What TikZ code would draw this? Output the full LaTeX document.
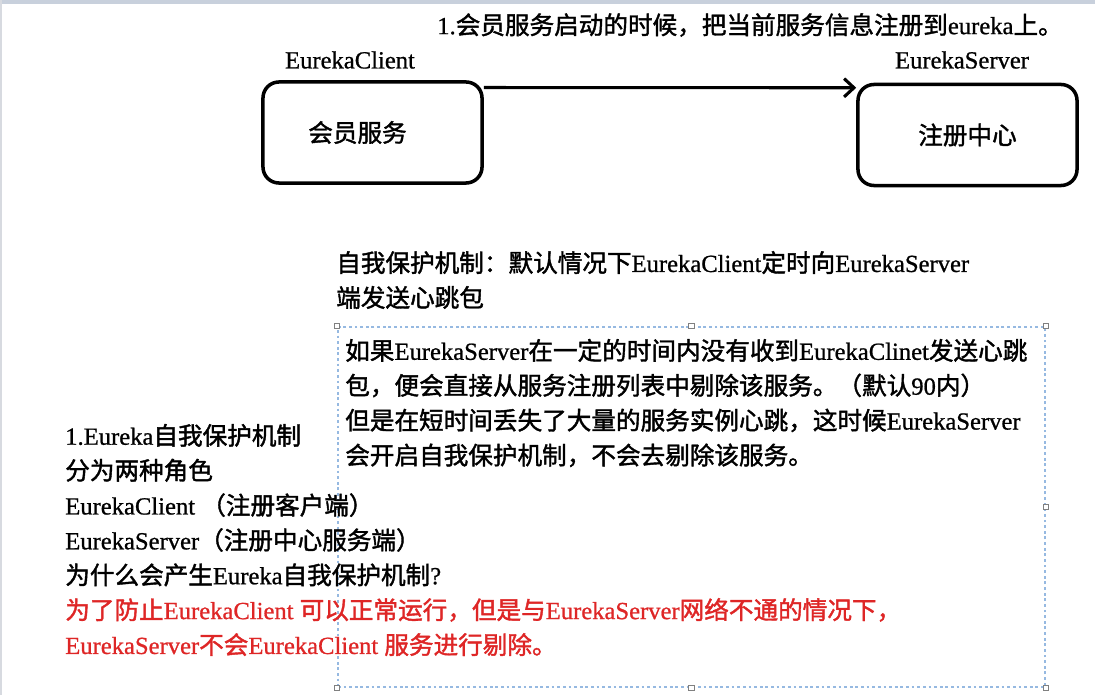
\documentclass[tikz,border=0pt]{standalone}
\usepackage{fontspec}
\usepackage{xcolor}
\usetikzlibrary{arrows.meta}
\setmainfont{Liberation Serif}[FakeBold=0.8]
\newfontfamily\zhfont{Noto Sans CJK SC}[FakeBold=1.6]
\newcommand{\zh}[1]{{\zhfont #1}}
\definecolor{barblue}{RGB}{200,208,220}
\definecolor{edgegray}{RGB}{215,218,224}
\definecolor{selblue}{RGB}{150,185,225}
\definecolor{textred}{RGB}{222,38,38}

\begin{document}
\begin{tikzpicture}[x=0.025cm, y=-0.025cm, every node/.style={font=\fontsize{17.5}{24.8}\selectfont}]
\tikzset{
  svcbox/.style={draw=black, line width=2.5pt, rounded corners=0.4cm, minimum width=5.475cm, minimum height=2.525cm},
  handle/.style={draw=gray, fill=white, line width=0.6pt, minimum size=0.13cm, inner sep=0pt},
  note/.style={align=left, anchor=west, inner sep=0pt},
}
\useasboundingbox (0,0) rectangle (1095,695);

% Window edges
\fill[barblue] (0,0) rectangle (1095,4);
\fill[edgegray] (0,0) rectangle (2,695);

% Title
\node[note] (title) at (437,25) {1.\zh{会员服务启动的时候，把当前服务信息注册到}eureka\zh{上。}};

% Services
\node[svcbox] (mem) at (372.5,132.5) {\zh{会员服务}\hspace*{0.75cm}};
\node[svcbox] (reg) at (967.5,135) {\zh{注册中心}};
\node (cliLabel) at (350,60) {EurekaClient};
\node (srvLabel) at (962,60) {EurekaServer};

% Register arrow
\draw[line width=2.2pt, -{Straight Barb[length=7pt,width=13pt]}] (mem.22) -- (reg.157);

% Heartbeat note
\node[note] (beat) at (336,280) {\zh{自我保护机制：默认情况下}EurekaClient\zh{定时向}EurekaServer\\
  \zh{端发送心跳包}};

% Selection frame
\node[draw=selblue, line width=1.1pt, dash pattern=on 2pt off 2pt, minimum width=17.675cm, minimum height=9cm, inner sep=0pt] (sel) at (691.5,507) {};
\foreach \a [count=\i] in {north west,north,north east,east,south east,south,south west,west}
  \node[handle] (hd\i) at (sel.\a) {};

% Eviction note
\node[note] (evict) at (345,403) {\zh{如果}EurekaServer\zh{在一定的时间内没有收到}EurekaClinet\zh{发送心跳}\\
  \zh{包，便会直接从服务注册列表中剔除该服务。（默认}90\zh{内）}\\
  \zh{但是在短时间丢失了大量的服务实例心跳，这时候}EurekaServer\\
  \zh{会开启自我保护机制，不会去剔除该服务。}};

% Roles
\node[note] (roles) at (65,540) {1.Eureka\zh{自我保护机制}\\
  \zh{分为两种角色}\\
  EurekaClient \zh{（注册客户端）}\\
  EurekaServer\zh{（注册中心服务端）}\\
  \zh{为什么会产生}Eureka\zh{自我保护机制}?\\
  \textcolor{textred}{\zh{为了防止}EurekaClient \zh{可以正常运行，但是与}EurekaServer\zh{网络不通的情况下，}}\\
  \textcolor{textred}{EurekaServer\zh{不会}EurekaClient \zh{服务进行剔除。}}};
\end{tikzpicture}
\end{document}
